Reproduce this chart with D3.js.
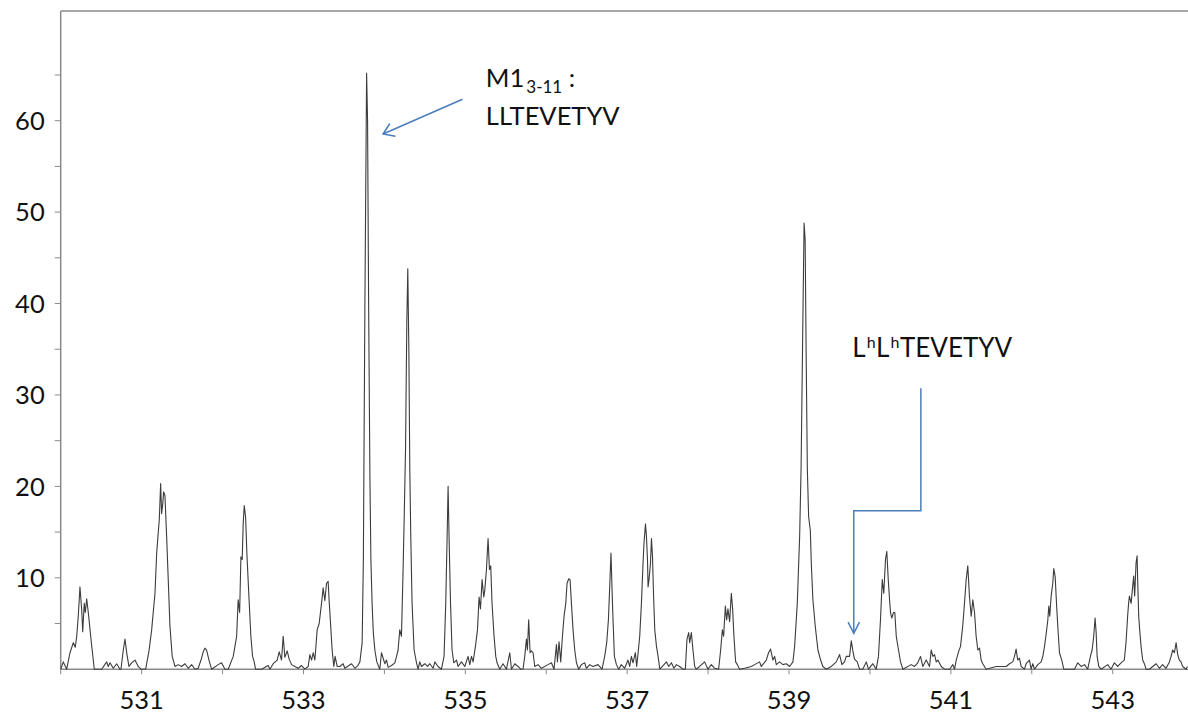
<!DOCTYPE html>
<html>
<head>
<meta charset="utf-8">
<script src="https://cdn.jsdelivr.net/npm/d3@7"></script>
<style>
  html, body { margin: 0; padding: 0; background: #fff; }
  svg { display: block; }
  text { font-family: Lato, "Open Sans", sans-serif; fill: #111; }
</style>
</head>
<body>
<svg id="chart" width="1188" height="717"></svg>
<script>
// m/z positions of the traced spectrum vertices
const mzValues = [
  530.000,530.032,530.074,530.115,530.156,530.180,530.198,530.217,530.238,530.259,530.272,530.291,530.304,530.321,530.341,530.374,530.415,
  530.506,530.568,530.588,530.609,530.650,530.692,530.732,530.745,530.769,530.794,530.819,530.843,530.877,530.918,530.958,530.992,
  531.050,531.091,531.124,531.165,531.186,531.205,531.218,531.235,531.247,531.260,531.272,531.288,531.309,531.329,531.350,531.378,531.412,
  531.452,531.494,531.535,531.576,531.618,531.659,531.699,531.741,531.761,531.782,531.803,531.832,531.865,531.946,531.988,532.029,
  532.070,532.132,532.174,532.193,532.211,532.227,532.243,532.255,532.268,532.285,532.301,532.326,532.350,532.371,532.391,532.408,
  532.482,532.564,532.585,532.626,532.675,532.700,532.729,532.749,532.770,532.799,532.823,532.853,532.894,532.934,532.976,533.017,
  533.058,533.079,533.100,533.120,533.141,533.169,533.194,533.223,533.243,533.264,533.285,533.305,533.317,533.335,533.354,533.375,533.391,533.416,
  533.449,533.490,533.511,533.594,533.635,533.672,533.697,533.725,533.740,533.759,533.780,533.792,533.805,533.821,533.833,533.848,533.863,533.882,533.906,533.943,
  533.964,534.005,534.026,534.046,534.088,534.129,534.150,534.169,534.190,534.211,534.231,534.244,534.261,534.277,534.289,534.302,534.314,534.326,534.342,534.367,534.397,534.416,
  534.437,534.458,534.499,534.533,534.561,534.602,534.623,534.663,534.705,534.737,534.758,534.775,534.787,534.799,534.817,534.836,534.857,534.891,534.910,534.952,534.993,
  535.034,535.055,535.076,535.096,535.125,535.150,535.170,535.187,535.207,535.228,535.240,535.261,535.281,535.298,535.314,535.330,535.355,535.376,535.392,535.425,
  535.466,535.508,535.549,535.570,535.611,535.652,535.685,535.713,535.734,535.755,535.767,535.783,535.800,535.817,535.837,535.858,535.898,535.940,536.022,536.064,536.096,
  536.126,536.138,536.158,536.179,536.200,536.220,536.241,536.257,536.278,536.294,536.311,536.331,536.352,536.373,536.401,536.434,536.475,536.496,536.537,536.578,536.639,536.689,
  536.722,536.747,536.768,536.784,536.800,536.812,536.825,536.842,536.867,536.895,536.928,536.969,537.010,537.031,537.052,537.072,537.101,537.117,537.133,
  537.155,537.176,537.196,537.208,537.226,537.238,537.251,537.258,537.270,537.288,537.300,537.313,537.325,537.341,537.362,537.382,537.403,
  537.486,537.514,537.546,537.578,537.608,537.648,537.689,537.719,537.739,537.760,537.772,537.793,537.813,537.834,537.855,537.895,537.957,537.998,538.040,538.081,
  538.130,538.155,538.176,538.192,538.213,538.229,538.245,538.266,538.287,538.303,538.319,538.340,538.361,538.389,538.451,538.534,538.575,538.636,538.657,
  538.719,538.747,538.772,538.801,538.822,538.843,538.883,538.924,538.966,539.007,539.048,
  539.069,539.102,539.131,539.149,539.168,539.186,539.199,539.211,539.226,539.242,539.263,539.275,539.295,539.324,539.357,539.390,539.418,539.460,
  539.522,539.584,539.625,539.653,539.686,539.707,539.748,539.769,539.789,539.809,539.843,539.871,539.912,539.954,539.982,540.036,540.077,540.105,
  540.130,540.152,540.171,540.192,540.208,540.226,540.242,540.254,540.270,540.291,540.307,540.325,540.353,540.378,540.406,
  540.510,540.551,540.591,540.625,540.653,540.695,540.736,540.757,540.777,540.798,540.819,540.839,540.881,540.922,540.984,541.024,541.045,541.066,
  541.098,541.119,541.147,541.168,541.189,541.209,541.230,541.251,541.271,541.292,541.312,541.333,541.354,541.374,541.394,541.436,
  541.559,541.683,541.724,541.765,541.786,541.806,541.826,541.847,541.868,541.909,541.930,541.971,541.992,542.012,542.033,542.074,542.116,542.136,
  542.157,542.178,542.198,542.210,542.222,542.239,542.259,542.271,542.289,542.305,542.321,542.342,542.370,542.395,
  542.527,542.568,542.610,542.651,542.691,542.724,542.745,542.765,542.782,542.795,542.807,542.827,542.856,
  542.938,542.979,543.020,543.061,543.103,543.143,543.164,543.184,543.196,543.206,543.227,543.246,543.259,543.271,543.288,543.301,543.308,543.321,543.333,543.350,543.370,543.391,543.412,
  543.453,543.536,543.576,543.617,543.659,543.700,543.721,543.741,543.762,543.783,543.803,543.823,543.844,543.864,543.906,543.922
];

// relative intensity at each vertex
const intensities = [
  0,0.8,0,1.8,2.9,2.4,3.6,5.8,9.0,6.6,4.1,7.2,6.2,7.7,6.2,3.3,0,
  0,0.8,0.3,0.7,0.1,0.6,0,0,1.8,3.3,1.6,0.3,0.7,1.0,0.3,0,
  0,2.0,4.3,8.3,12.7,14.9,16.3,20.3,17.0,18.0,19.4,19.0,14.5,9.8,4.7,1.4,0.3,
  0.5,0.3,0.6,0.1,0.5,0,0.1,1.2,1.9,2.3,2.1,1.0,0,0.5,0.7,0,
  0,1.4,3.6,7.6,6.2,12.3,12.0,15.9,17.9,16.6,12.6,7.9,3.6,1.4,0.8,0,
  0,0.4,0,0.6,1.0,1.9,1.0,3.6,1.3,2.0,1.1,0.5,0.3,0.1,0.4,0,
  0.3,1.6,1.0,1.8,1.0,4.3,5.0,7.2,8.9,7.5,9.4,9.6,7.5,4.9,2.1,0.3,1.4,0.3,
  0.3,0.6,0.1,0.6,0.1,0.4,0.8,2.9,12,40,65.2,60,40,21,12,7.2,4.0,2.1,0.8,0,
  1.8,0.6,1.0,0.2,0.4,0.7,1.4,2.1,4.3,3.6,10.9,16.3,24,38,43.8,35,21.8,14.5,7.2,2.1,0.7,0,
  0.8,0.3,0.6,0.3,0.6,0.1,0.8,0.3,0,1.4,7.2,14.5,20.0,14.5,7.2,2.1,0.7,1.0,0.3,0.8,0.3,
  1.4,0.5,1.4,0.8,2.5,4.3,7.9,6.6,9.8,7.9,8.6,10.9,14.3,10.9,11.3,7.2,3.6,1.4,0.7,0,
  0.6,0,1.8,0,0.6,0.3,0,0,1.4,3.3,2.1,5.4,1.8,2.0,1.8,0.3,0.5,0.1,0.5,0.7,0,
  2.7,0.8,3.0,0.8,3.6,5.8,7.2,9.4,9.9,9.8,7.2,4.3,2.1,0.7,0,0.5,0.7,0.1,0.5,0.3,0.5,0,
  1.4,2.9,5.4,9.0,12.7,9.0,5.4,1.4,0.5,0,0.5,0.1,1.0,0.3,1.4,0.7,1.8,0.3,1.6,
  3.6,7.2,11.6,13.8,15.9,14.5,12.0,9.0,9.8,11.6,14.3,12.3,8.3,4.3,2.5,1.4,0,
  0.8,0.3,0.7,0.1,0.5,0.3,0,0,3.3,4.0,2.9,4.0,2.1,0.3,0,0.3,0.8,0,0.5,0.1,
  0,2.1,4.3,3.6,6.9,5.4,6.6,5.2,8.3,6.6,3.6,0.8,0.5,0,0.1,0.3,0.5,0.8,0.3,
  1.0,1.8,2.2,1.0,1.4,0.5,0.8,0.5,0.6,0.3,0.8,
  2.5,7.2,14.5,22,36,48.8,47,35,22,16.7,15.2,11.6,7.6,4.7,2.1,1.0,0.3,0,
  0.3,0.8,1.6,0.5,0.8,1.4,1.4,3.1,2.0,1.1,0.8,0,0,0.8,0,0.6,0,1.4,
  5.4,9.8,8.3,12.0,12.9,9.8,7.6,6.2,5.6,6.2,6.2,3.6,2.1,0.8,0,
  0.5,0.3,0.7,1.4,0.3,1.0,0.3,2.1,1.4,1.6,0.8,1.0,0.3,0,0,0.5,0,1.0,
  2.0,2.5,4.8,7.2,9.8,11.3,7.9,5.8,7.6,6.2,3.6,2.1,2.3,1.0,0.6,0,
  0.3,0.3,0.6,0.8,1.4,2.2,1.0,1.2,0.3,0,0.6,1.0,0,0.6,0,0.5,0.8,1.4,
  2.5,3.9,5.4,6.9,5.8,8.0,9.4,11.0,10.1,7.2,4.7,1.8,1.0,0,
  0,0.7,0.3,0.5,0,1.4,2.1,3.6,5.6,4.0,1.4,0.3,0,
  0.5,0,0.7,0.3,0.7,1.0,2.9,5.8,7.2,8.0,7.2,9.0,10.2,8.0,11.6,12.4,9.8,5.8,4.3,2.5,1.0,0.6,0,
  0,0.6,0.1,0.5,0.1,0.8,1.4,2.1,1.8,2.9,1.6,1.0,0.8,0.3,0,0.3
];

// axis ticks and labels
const xTickValues = [530, 531, 532, 533, 534, 535, 536, 537, 538, 539, 540, 541, 542, 543];
const xTickLabels = [531, 533, 535, 537, 539, 541, 543];
const yTickValues = [5, 10, 15, 20, 25, 30, 35, 40, 45, 50, 55, 60, 65];
const yTickLabels = [10, 20, 30, 40, 50, 60];

const svg = d3.select("#chart");
const W = 1188, H = 717;
const plotLeft = 60.7, plotRight = 1188, plotTop = 11, plotBottom = 669.2;

const x = d3.scaleLinear().domain([530, 543.93]).range([plotLeft, plotRight]);
const y = d3.scaleLinear().domain([0, 72]).range([plotBottom, plotTop]);

const axisColor = "#8a8a8a";
const arrowColor = "#4a7ebb";

svg.append("rect").attr("width", W).attr("height", H).attr("fill", "#fff");

// frame: top border
svg.append("line")
  .attr("x1", x(530)).attr("x2", plotRight)
  .attr("y1", y(72)).attr("y2", y(72))
  .attr("stroke", axisColor).attr("stroke-width", 1.3);

// y axis
const yAxis = svg.append("g");
yAxis.append("line")
  .attr("x1", x(530)).attr("x2", x(530))
  .attr("y1", y(72)).attr("y2", y(0))
  .attr("stroke", axisColor).attr("stroke-width", 1.5);
yAxis.selectAll("line.tick").data(yTickValues).join("line")
  .attr("class", "tick")
  .attr("x1", x(530) - 6).attr("x2", x(530))
  .attr("y1", d => y(d)).attr("y2", d => y(d))
  .attr("stroke", axisColor).attr("stroke-width", 1);
yAxis.selectAll("text").data(yTickLabels).join("text")
  .attr("x", x(530) - 16)
  .attr("y", d => y(d))
  .attr("dy", "0.36em")
  .attr("text-anchor", "end")
  .attr("font-size", 25.5)
  .text(d => d);

// x axis
const xAxis = svg.append("g");
xAxis.append("line")
  .attr("x1", x(530)).attr("x2", plotRight)
  .attr("y1", y(0)).attr("y2", y(0))
  .attr("stroke", axisColor).attr("stroke-width", 1.5);
xAxis.selectAll("line.tick").data(xTickValues).join("line")
  .attr("class", "tick")
  .attr("x1", d => x(d)).attr("x2", d => x(d))
  .attr("y1", y(0)).attr("y2", y(0) + 5)
  .attr("stroke", axisColor).attr("stroke-width", 1);
xAxis.selectAll("text").data(xTickLabels).join("text")
  .attr("x", d => x(d))
  .attr("y", y(0) + 40)
  .attr("text-anchor", "middle")
  .attr("font-size", 25.5)
  .text(d => d);

// spectrum trace
const points = mzValues.map((m, i) => [m, intensities[i]]);
const line = d3.line().x(d => x(d[0])).y(d => y(d[1]));
svg.append("path")
  .datum(points)
  .attr("d", line)
  .attr("fill", "none")
  .attr("stroke", "#3c3c3c")
  .attr("stroke-width", 1.1)
  .attr("stroke-linejoin", "round");

// open arrowhead drawn at the end of a segment
function arrowHead(g, fromPt, tipPt, len, halfAngleDeg) {
  const ang = Math.atan2(fromPt[1] - tipPt[1], fromPt[0] - tipPt[0]);
  const a = halfAngleDeg * Math.PI / 180;
  const w1 = [tipPt[0] + len * Math.cos(ang + a), tipPt[1] + len * Math.sin(ang + a)];
  const w2 = [tipPt[0] + len * Math.cos(ang - a), tipPt[1] + len * Math.sin(ang - a)];
  g.append("path")
    .attr("d", `M${w1[0]},${w1[1]}L${tipPt[0]},${tipPt[1]}L${w2[0]},${w2[1]}`)
    .attr("fill", "none").attr("stroke", arrowColor).attr("stroke-width", 1.5)
    .attr("stroke-linejoin", "miter");
}

// annotation: M1 3-11 peptide
const ann1 = svg.append("g");
const a1From = [x(534.965), y(62.34)];
const a1Tip = [x(533.984), y(58.54)];
ann1.append("line")
  .attr("x1", a1From[0]).attr("y1", a1From[1])
  .attr("x2", a1Tip[0]).attr("y2", a1Tip[1])
  .attr("stroke", arrowColor).attr("stroke-width", 1.5);
arrowHead(ann1, a1From, a1Tip, 12.5, 34);

const t1 = ann1.append("text")
  .attr("x", x(535.253)).attr("y", y(63.72))
  .attr("font-size", 25.5);
t1.append("tspan").text("M1");
t1.append("tspan").attr("font-size", 17).attr("dy", 6.6).attr("dx", 2).text("3-11");
t1.append("tspan").attr("dy", -6.6).text(" :");
ann1.append("text")
  .attr("x", x(535.253)).attr("y", y(59.53))
  .attr("font-size", 25.5)
  .text("LLTEVETYV");

// annotation: heavy-labelled peptide with elbow connector
const ann2 = svg.append("g");
const elbow = [[540.629, 30.73], [540.629, 17.33], [539.800, 17.33], [539.800, 3.93]]
  .map(d => [x(d[0]), y(d[1])]);
ann2.append("path")
  .attr("d", d3.line()(elbow))
  .attr("fill", "none").attr("stroke", arrowColor).attr("stroke-width", 1.5);
arrowHead(ann2, elbow[2], elbow[3], 12.5, 27);

const t2 = ann2.append("text")
  .attr("x", x(539.782)).attr("y", y(34.12))
  .attr("font-size", 26);
t2.append("tspan").text("L");
t2.append("tspan").attr("font-size", 16).attr("dy", -9).attr("dx", 1).text("h");
t2.append("tspan").attr("dy", 9).attr("dx", 0.5).text("L");
t2.append("tspan").attr("font-size", 16).attr("dy", -9).attr("dx", 1).text("h");
t2.append("tspan").attr("dy", 9).attr("dx", 0.5).text("TEVETYV");
</script>
</body>
</html>
